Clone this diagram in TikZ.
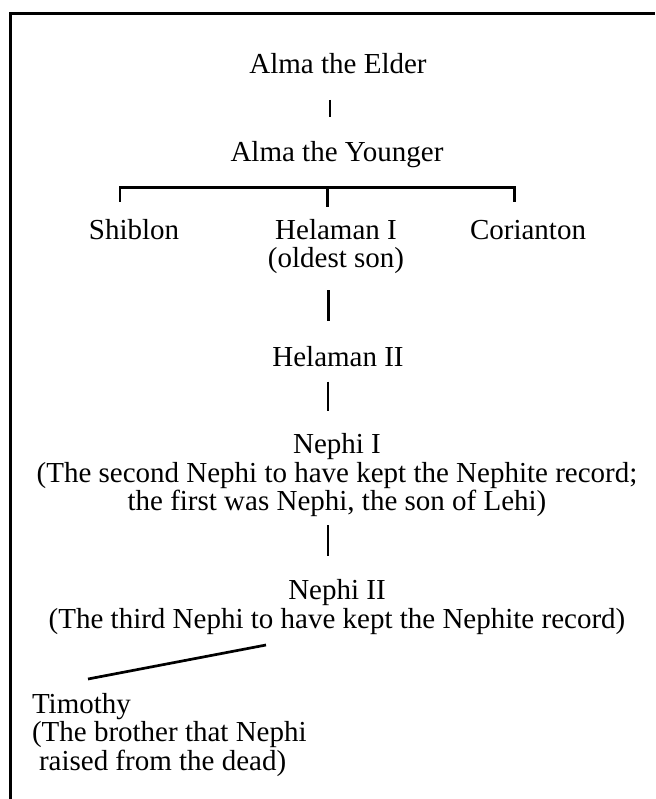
\documentclass[tikz,border=0pt]{standalone}
\usepackage{fontspec}
\setmainfont{Liberation Serif}
\begin{document}
\begin{tikzpicture}[x=1pt,y=-1pt,
  person/.style={inner sep=0pt, outer sep=0pt, anchor=base, align=center,
    font=\fontsize{29}{28.5}\selectfont},
  link/.style={line width=2.7pt, line cap=butt, line join=miter},
  frame/.style={line width=2.8pt, line join=miter}]
\useasboundingbox (0,0) rectangle (655,799);

% open frame: left and top edges
\draw[frame] (10.5,799) -- (10.5,13.3) -- (655,13.3);

% people (multi-line nodes are placed by the baseline of their last line)
\node[person] (elder)    at (338,73.3)  {Alma the Elder};
\node[person] (younger)  at (337,161.7) {Alma the Younger};
\node[person] (shiblon)  at (134,240)   {Shiblon};
\node[person] (helaman1) at (336,268)   {Helaman I\\(oldest son)};
\node[person] (corianton)at (528,240)   {Corianton};
\node[person] (helaman2) at (338,366)   {Helaman II};
\node[person] (nephi1)   at (337,510.5) {Nephi I\\(The second Nephi to have kept the Nephite record;\\the first was Nephi, the son of Lehi)};
\node[person] (nephi2)   at (337,628)   {Nephi II\\(The third Nephi to have kept the Nephite record)};
\node[person, align=left, anchor=base west] (timothy) at (32,770)
  {Timothy\\(The brother that Nephi\\\hspace*{7pt}raised from the dead)};

% connector end points
\coordinate (e1a) at (330,100);   \coordinate (e1b) at (330,117.3);
\coordinate (bl)  at (120,201.7); \coordinate (bm)  at (327.7,207);
\coordinate (br)  at (514.3,201.7); \coordinate (bt) at (327.7,187.3);
\coordinate (h1a) at (328.3,290); \coordinate (h1b) at (328.3,320.7);
\coordinate (h2a) at (328,381.7); \coordinate (h2b) at (328,410.7);
\coordinate (n1a) at (328,525);   \coordinate (n1b) at (328,556);
\coordinate (n2a) at (266,645);   \coordinate (tia) at (88,679);

% connectors
\draw[link] (e1a) -- (e1b);
\draw[link] (bl) |- (br |- bt) -- (br);
\draw[link] (bt) -- (bm);
\draw[link] (h1a) -- (h1b);
\draw[link] (h2a) -- (h2b);
\draw[link] (n1a) -- (n1b);
\draw[link] (n2a) -- (tia);
\end{tikzpicture}
\end{document}
